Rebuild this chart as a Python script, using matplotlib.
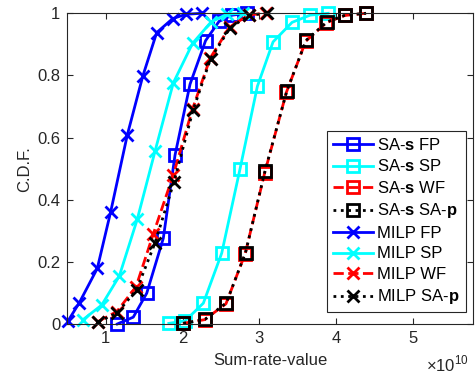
import matplotlib
matplotlib.use("Agg")
import matplotlib.pyplot as plt

plt.rcParams['font.family'] = ['Liberation Sans', 'DejaVu Sans']
plt.rcParams['mathtext.fontset'] = 'custom'
plt.rcParams['mathtext.rm'] = 'Liberation Sans'
plt.rcParams['mathtext.bf'] = 'Liberation Sans:bold'

SCALE = 1e10

# SA-s series (square markers), x in units of 1e10
sa_fp_x = [1.151, 1.359, 1.534, 1.750, 1.902, 2.098, 2.300, 2.475, 2.645, 2.833]
sa_fp_y = [0.000, 0.022, 0.099, 0.276, 0.543, 0.772, 0.912, 0.974, 0.994, 1.000]

sa_sp_x = [1.822, 2.033, 2.271, 2.510, 2.749, 2.974, 3.178, 3.426, 3.660, 3.895]
sa_sp_y = [0.002, 0.010, 0.067, 0.228, 0.500, 0.765, 0.908, 0.971, 0.994, 1.000]

sa_wf_x = [2.005, 2.288, 2.565, 2.815, 3.070, 3.352, 3.603, 3.873, 4.112, 4.385]
sa_wf_y = [0.002, 0.014, 0.065, 0.226, 0.487, 0.746, 0.910, 0.970, 0.993, 1.000]

sa_sap_x = [2.010, 2.293, 2.570, 2.820, 3.074, 3.357, 3.608, 3.878, 4.116, 4.389]
sa_sap_y = [0.002, 0.015, 0.068, 0.230, 0.493, 0.750, 0.913, 0.972, 0.994, 1.000]

# MILP series (x markers)
milp_fp_x = [0.513, 0.656, 0.891, 1.065, 1.281, 1.482, 1.664, 1.872, 2.046, 2.250]
milp_fp_y = [0.011, 0.068, 0.179, 0.361, 0.608, 0.797, 0.938, 0.983, 0.997, 1.000]

milp_sp_x = [0.700, 0.948, 1.177, 1.411, 1.642, 1.880, 2.130, 2.371, 2.576, 2.781]
milp_sp_y = [0.013, 0.061, 0.154, 0.337, 0.556, 0.776, 0.903, 0.972, 0.997, 1.000]

milp_wf_x = [0.900, 1.145, 1.395, 1.620, 1.880, 2.130, 2.360, 2.612, 2.860, 3.090]
milp_wf_y = [0.008, 0.040, 0.120, 0.290, 0.480, 0.692, 0.856, 0.955, 0.995, 1.000]

milp_sap_x = [0.904, 1.151, 1.404, 1.642, 1.889, 2.137, 2.365, 2.618, 2.866, 3.096]
milp_sap_y = [0.007, 0.036, 0.111, 0.261, 0.458, 0.688, 0.854, 0.953, 0.994, 1.000]

labels = ['SA-$\\mathbf{s}$ FP', 'SA-$\\mathbf{s}$ SP', 'SA-$\\mathbf{s}$ WF',
          'SA-$\\mathbf{s}$ SA-$\\mathbf{p}$',
          'MILP FP', 'MILP SP', 'MILP WF', 'MILP SA-$\\mathbf{p}$']

xticks = [1, 2, 3, 4, 5]
xtick_labels = ['1', '2', '3', '4', '5']
yticks = [0, 0.2, 0.4, 0.6, 0.8, 1]
ytick_labels = ['0', '0.2', '0.4', '0.6', '0.8', '1']

series = [
    (sa_fp_x, sa_fp_y, '#0000ff', '-', 's'),
    (sa_sp_x, sa_sp_y, '#00ffff', '-', 's'),
    (sa_wf_x, sa_wf_y, '#ff0000', '--', 's'),
    (sa_sap_x, sa_sap_y, '#000000', ':', 's'),
    (milp_fp_x, milp_fp_y, '#0000ff', '-', 'x'),
    (milp_sp_x, milp_sp_y, '#00ffff', '-', 'x'),
    (milp_wf_x, milp_wf_y, '#ff0000', '--', 'x'),
    (milp_sap_x, milp_sap_y, '#000000', ':', 'x'),
]

fig = plt.figure(figsize=(4.77, 3.75), dpi=100)
ax = fig.add_axes([0.141, 0.136, 0.8506, 0.8285])

for (xs, ys, c, ls, mk), lab in zip(series, labels):
    ms = 8.5 if mk == 's' else 9
    ax.plot([v * SCALE for v in xs], ys, color=c, linestyle=ls, linewidth=2,
            marker=mk, markersize=ms, markeredgewidth=2,
            markerfacecolor='none', markeredgecolor=c, label=lab, clip_on=False)

ax.set_xlim(0.5 * SCALE, 5.78 * SCALE)
ax.set_ylim(0, 1)
ax.set_xticks([t * SCALE for t in xticks])
ax.set_xticklabels(xtick_labels)
ax.set_yticks(yticks)
ax.set_yticklabels(ytick_labels)

edge = '#262626'
for s in ax.spines.values():
    s.set_color(edge)
    s.set_linewidth(0.8)
ax.tick_params(direction='in', top=True, right=True, length=4, width=0.8,
               colors=edge, labelsize=12, labelcolor=edge, pad=5)

ax.text(0.99, -0.152, '$\\times10^{10}$', transform=ax.transAxes,
        ha='right', va='baseline', fontsize=12, color=edge)

ax.set_xlabel('Sum-rate-value', fontsize=12, color=edge, labelpad=5)
ax.set_ylabel('C.D.F.', fontsize=12, color=edge, labelpad=4)

leg = ax.legend(loc='lower right', bbox_to_anchor=(0.982, 0.038), fontsize=12,
                frameon=True, fancybox=False, framealpha=1, edgecolor=edge,
                handlelength=2.4, labelspacing=0.33, borderpad=0.35,
                handletextpad=0.25, borderaxespad=0)
leg.get_frame().set_linewidth(0.8)

fig.savefig('out.png', dpi=100)
